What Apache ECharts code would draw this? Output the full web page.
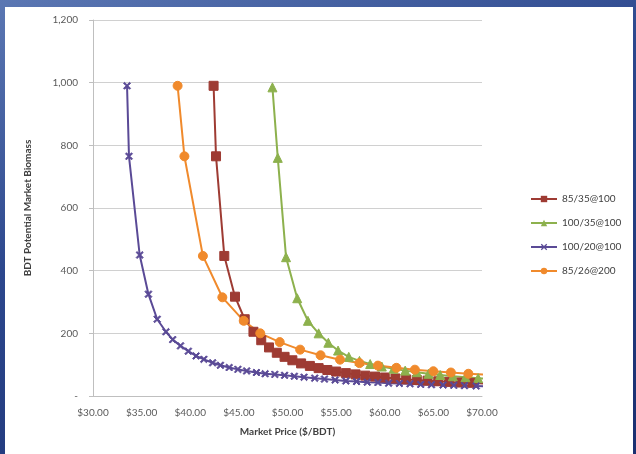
<!DOCTYPE html>
<html><head><meta charset="utf-8">
<script src="https://cdn.jsdelivr.net/npm/echarts@6/dist/echarts.min.js"></script>
<style>
html,body{margin:0;padding:0;width:636px;height:454px;overflow:hidden;
background:linear-gradient(160deg,#5b77b3 0%,#2c478d 40%,#1a2f70 100%);}
#panel{position:absolute;left:5px;top:7px;width:628px;height:447px;background:#fff;}
#chart{width:628px;height:447px;}
</style></head>
<body><div id="panel"><div id="chart"></div></div>
<script>
const seriesNames = ['85/35@100','100/35@100','100/20@100','85/26@200'];
const yTickLabels = {0:'-',200:'200',400:'400',600:'600',800:'800',1000:'1,000',1200:'1,200'};
const xTickLabels = ['$30.00','$35.00','$40.00','$45.00','$50.00','$55.00','$60.00','$65.00','$70.00'];

// [price $/BDT, biomass BDT]
const red85_35 = [[42.4,990],[42.65,765],[43.5,447],[44.6,317],[45.6,245],[46.5,205],[47.3,178],[48.1,155],[48.9,138],[49.7,125],[50.5,114],[51.4,104],[52.3,96],[53.2,89],[54.1,83],[55.0,78],[56.0,73],[57.0,69],[58.0,65],[59.0,62],[60.0,59],[61.1,56],[62.2,53],[63.3,51],[64.4,49],[65.5,47],[66.6,45],[67.8,43],[69.0,42],[70.2,40]];
const green100_35 = [[48.45,985],[49.0,760],[49.85,443],[51.0,312],[52.1,240],[53.2,200],[54.2,170],[55.2,145],[56.3,125],[57.4,112],[58.5,102],[59.7,94],[60.9,87],[62.1,81],[63.3,76],[64.5,71],[65.7,67],[67.0,63],[68.3,60],[69.6,57],[70.9,54]];
const purple100_20 = [[33.5,990],[33.7,765],[34.8,450],[35.7,325],[36.6,245],[37.5,205],[38.2,180],[39.0,160],[39.8,143],[40.6,128],[41.4,117],[42.3,106],[43.1,98],[44.0,91],[44.9,85],[45.8,80],[46.8,75],[47.7,71],[48.7,69],[49.7,66],[50.7,63],[51.7,60],[52.8,57],[53.8,54],[54.9,51],[56.0,48],[57.1,46],[58.2,44],[59.3,43],[60.4,41],[61.5,40],[62.6,39],[63.7,37],[64.8,36],[66.0,35],[67.1,34],[68.2,33],[69.4,32],[70.5,31]];
const orange85_26 = [[38.7,990],[39.4,765],[41.3,447],[43.3,315],[45.5,240],[47.2,200],[49.2,172],[51.3,148],[53.4,130],[55.4,116],[57.4,105],[59.3,97],[61.2,90],[63.1,84],[65.0,79],[66.8,75],[68.6,71],[70.4,68]];

const colors = ['#9e3b33','#8db14d','#5a4a96','#f08a2c'];
const xSym = 'path://M0,1.4L1.4,0L5,3.6L8.6,0L10,1.4L6.4,5L10,8.6L8.6,10L5,6.4L1.4,10L0,8.6L3.6,5Z';
const font = 'Lato, "Open Sans", sans-serif';

const chart = echarts.init(document.getElementById('chart'));
function mk(name, data, color, symbol, size){
  return {name, type:'line', data, symbol, symbolSize:size, showSymbol:true,
    lineStyle:{color, width:2}, itemStyle:{color, borderColor:color},
    clip:true, z:2};
}
chart.setOption({
  animation:false,
  color: colors,
  grid:{left:88, right:151, top:13, bottom:58},
  legend:{orient:'vertical', left:520, top:182, itemGap:14, itemWidth:26, itemHeight:8,
    textStyle:{fontFamily:font, fontSize:10, color:'#404040'},
    data:seriesNames},
  xAxis:{type:'value', min:30, max:70, interval:5,
    name:'Market Price ($/BDT)', nameLocation:'middle', nameGap:31,
    nameTextStyle:{fontFamily:font, fontSize:10, fontWeight:'bold', color:'#404040'},
    axisLine:{show:true, lineStyle:{color:'#bfbfbf'}}, axisTick:{show:false},
    splitLine:{show:false},
    axisLabel:{fontFamily:font, fontSize:10, color:'#595959', margin:12,
      formatter:(v)=>xTickLabels[Math.round((v-30)/5)]}},
  yAxis:{type:'value', min:0, max:1200, interval:200,
    name:'BDT Potential Market Biomass', nameLocation:'middle', nameGap:60, nameRotate:90,
    nameTextStyle:{fontFamily:font, fontSize:10, fontWeight:'bold', color:'#404040'},
    axisLine:{show:true, lineStyle:{color:'#bfbfbf'}},
    axisTick:{show:true, length:4, lineStyle:{color:'#bfbfbf'}},
    splitLine:{show:true, lineStyle:{color:'#d0d0d0'}},
    axisLabel:{fontFamily:font, fontSize:10, color:'#595959', margin:15,
      formatter:(v)=>yTickLabels[v]}},
  series:[
    mk(seriesNames[0], red85_35, colors[0], 'rect', 9),
    mk(seriesNames[1], green100_35, colors[1], 'triangle', 9),
    mk(seriesNames[2], purple100_20, colors[2], xSym, 7),
    mk(seriesNames[3], orange85_26, colors[3], 'circle', 9)
  ]
});
</script></body></html>
